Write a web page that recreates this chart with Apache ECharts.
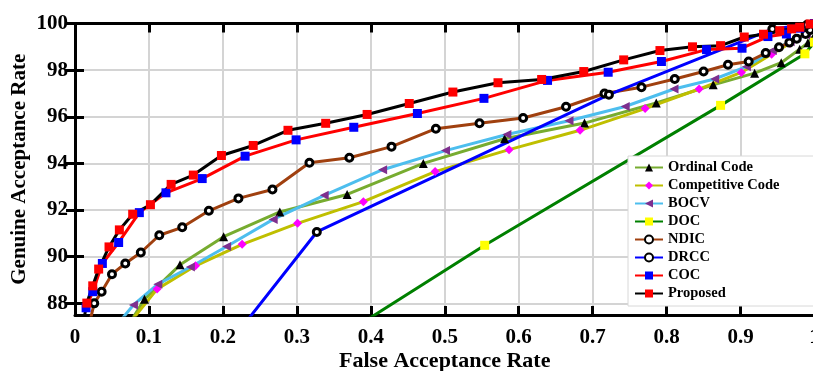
<!DOCTYPE html>
<html>
<head>
<meta charset="utf-8">
<script src="https://cdn.jsdelivr.net/npm/echarts@6/dist/echarts.min.js"></script>
<style>html,body{margin:0;padding:0;background:#fff;}#c{width:813px;height:371px;}</style>
</head>
<body>
<div id="c"></div>
<script>
// ---- data (FAR on x, GAR on y) ----
const xTicks = [0, 0.1, 0.2, 0.3, 0.4, 0.5, 0.6, 0.7, 0.8, 0.9, 1];
const yTicks = [88, 90, 92, 94, 96, 98, 100];

const ordinalX = [0.075, 0.094, 0.142, 0.201, 0.277, 0.368, 0.471, 0.581, 0.689, 0.786, 0.863, 0.919, 0.955, 0.980, 0.991, 1.0];
const ordinalY = [87.2, 88.18, 89.65, 90.86, 91.92, 92.67, 94.00, 95.06, 95.73, 96.59, 97.37, 97.87, 98.32, 98.90, 99.17, 99.5];

const compX = [0.075, 0.111, 0.163, 0.226, 0.301, 0.390, 0.487, 0.587, 0.683, 0.771, 0.844, 0.901, 0.942, 0.967, 1.0];
const compY = [87.2, 88.61, 89.61, 90.53, 91.43, 92.36, 93.65, 94.59, 95.42, 96.35, 97.19, 97.90, 98.68, 99.15, 99.8];

const bocvX = [0.060, 0.079, 0.112, 0.156, 0.205, 0.268, 0.337, 0.416, 0.501, 0.584, 0.668, 0.744, 0.810, 0.865, 0.908, 0.943, 0.967, 0.989];
const bocvY = [87.2, 87.93, 88.82, 89.56, 90.44, 91.60, 92.63, 93.73, 94.55, 95.24, 95.83, 96.44, 97.19, 97.62, 98.15, 98.84, 99.22, 99.5];

const docX = [0.236, 0.554, 0.873, 0.987, 1.0];
const docY = [84.1, 90.49, 96.49, 98.70, 99.2];

const ndicX = [0.020, 0.026, 0.036, 0.050, 0.068, 0.089, 0.114, 0.145, 0.181, 0.221, 0.267, 0.317, 0.371, 0.428, 0.488, 0.547, 0.606, 0.664, 0.716, 0.766, 0.811, 0.850, 0.883, 0.911, 0.934, 0.952, 0.966, 0.976, 0.988, 0.994];
const ndicY = [87.2, 88.00, 88.50, 89.25, 89.71, 90.18, 90.92, 91.26, 91.97, 92.50, 92.88, 94.03, 94.24, 94.72, 95.49, 95.72, 95.95, 96.43, 97.00, 97.27, 97.62, 97.94, 98.23, 98.37, 98.73, 98.98, 99.18, 99.35, 99.55, 99.72];

const drccX = [0.200, 0.327, 0.722, 0.943, 0.990];
const drccY = [85.94, 91.06, 96.95, 99.76, 99.95];

const cocX = [0.015, 0.024, 0.037, 0.059, 0.087, 0.123, 0.172, 0.230, 0.299, 0.377, 0.463, 0.553, 0.639, 0.721, 0.793, 0.854, 0.902, 0.937, 0.962, 0.980, 1.0];
const cocY = [87.81, 88.50, 89.71, 90.61, 91.89, 92.74, 93.35, 94.31, 95.01, 95.55, 96.14, 96.79, 97.56, 97.91, 98.37, 98.88, 98.94, 99.44, 99.55, 99.80, 100];

const propX = [0.012, 0.016, 0.024, 0.032, 0.046, 0.060, 0.078, 0.102, 0.130, 0.160, 0.198, 0.241, 0.288, 0.339, 0.395, 0.452, 0.511, 0.572, 0.631, 0.688, 0.742, 0.791, 0.835, 0.873, 0.905, 0.931, 0.953, 0.969, 0.980, 0.994];
const propY = [87.3, 88.01, 88.75, 89.47, 90.42, 91.15, 91.82, 92.23, 93.10, 93.50, 94.34, 94.77, 95.42, 95.72, 96.10, 96.57, 97.06, 97.46, 97.60, 97.94, 98.44, 98.84, 99.00, 99.05, 99.42, 99.54, 99.69, 99.77, 99.84, 99.98];

const names = ['Ordinal Code', 'Competitive Code', 'BOCV', 'DOC', 'NDIC', 'DRCC', 'COC', 'Proposed'];

function pairs(xs, ys) { return xs.map((x, i) => [x, ys[i]]); }

const FONT = '"Liberation Serif", "Times New Roman", serif';
const chart = echarts.init(document.getElementById('c'));

function mk(name, xs, ys, lineColor, symbol, symColor, extra) {
  return Object.assign({
    name: name,
    type: 'line',
    data: pairs(xs, ys),
    symbol: symbol,
    symbolSize: 8,
    lineStyle: { color: lineColor, width: 3 },
    itemStyle: { color: symColor },
    emphasis: { disabled: true },
    clip: true,
    animation: false
  }, extra || {});
}

const ringStyle = { color: '#ffffff', borderColor: '#000000', borderWidth: 3 };

const series = [
  mk(names[0], ordinalX, ordinalY, '#77AC30', 'triangle', '#000000', { symbolSize: 9 }),
  mk(names[1], compX, compY, '#BFBF00', 'diamond', '#FF00FF', { symbolSize: 9 }),
  mk(names[2], bocvX, bocvY, '#4DBEEE', 'triangle', '#7E2F8E', { symbolRotate: 90, symbolSize: 9 }),
  mk(names[3], docX, docY, '#008000', 'rect', '#FFFF00', { symbolSize: 9 }),
  mk(names[4], ndicX, ndicY, '#A0400F', 'circle', '#000000', { symbolSize: 7, itemStyle: ringStyle }),
  mk(names[5], drccX, drccY, '#0000FF', 'circle', '#000000', { symbolSize: 7, itemStyle: ringStyle }),
  mk(names[6], cocX, cocY, '#FF0000', 'rect', '#0000FF', { symbolSize: 9 }),
  mk(names[7], propX, propY, '#000000', 'rect', '#FF0000', { symbolSize: 9 })
];

const axisLabelStyle = { fontFamily: FONT, fontWeight: 'bold', fontSize: 21, color: '#000' };

chart.setOption({
  animation: false,
  backgroundColor: '#ffffff',
  grid: { left: 75, top: 23.5, width: 739.5, bottom: 56, show: false, containLabel: false, outerBoundsMode: 'none' },
  legend: {
    data: names,
    orient: 'vertical',
    left: 628,
    top: 156,
    itemWidth: 28,
    itemHeight: 10,
    itemGap: 3,
    padding: [4, 40, 5, 6],
    backgroundColor: '#ffffff',
    borderColor: '#d8d8d8',
    borderWidth: 1,
    textStyle: { fontFamily: FONT, fontWeight: 'bold', fontSize: 14.5, lineHeight: 12, color: '#000' },
    selectedMode: false
  },
  xAxis: [{
    type: 'value', min: 0, max: 1, interval: 0.1, position: 'bottom',
    name: 'False Acceptance Rate', nameLocation: 'middle', nameGap: 35, nameMoveOverlap: false,
    nameTextStyle: { fontFamily: FONT, fontWeight: 'bold', fontSize: 22, color: '#000' },
    axisLine: { show: true, lineStyle: { color: '#000', width: 3 } },
    axisTick: { show: true, inside: true, length: 9, lineStyle: { color: '#000', width: 3 } },
    axisLabel: Object.assign({ margin: 12, hideOverlap: false, formatter: v => String(Math.round(v * 10) / 10), customValues: xTicks }, axisLabelStyle),
    splitLine: { show: true, lineStyle: { color: '#d4d4d4', width: 2 } }
  }, {
    type: 'value', min: 0, max: 1, interval: 0.1, position: 'top',
    axisLine: { show: true, lineStyle: { color: '#000', width: 3 } },
    axisTick: { show: true, inside: true, length: 9, lineStyle: { color: '#000', width: 3 } },
    axisLabel: { show: false },
    splitLine: { show: false }
  }],
  yAxis: [{
    type: 'value', min: 87.5, max: 100, splitNumber: 6, position: 'left',
    name: 'Genuine Acceptance Rate', nameLocation: 'middle', nameGap: 45, nameMoveOverlap: false,
    nameTextStyle: { fontFamily: FONT, fontWeight: 'bold', fontSize: 21, color: '#000' },
    axisLine: { show: true, lineStyle: { color: '#000', width: 3 } },
    axisTick: { show: true, inside: true, length: 9, lineStyle: { color: '#000', width: 3 }, customValues: yTicks },
    axisLabel: Object.assign({ margin: 7, customValues: yTicks }, axisLabelStyle),
    splitLine: { show: true, lineStyle: { color: '#d4d4d4', width: 2 } }
  }, {
    type: 'value', min: 87.5, max: 100, splitNumber: 6, position: 'right',
    axisLine: { show: true, lineStyle: { color: '#000', width: 3 } },
    axisTick: { show: true, inside: true, length: 9, lineStyle: { color: '#000', width: 3 }, customValues: yTicks },
    axisLabel: { show: false },
    splitLine: { show: false }
  }],
  series: series
});
</script>
</body>
</html>
